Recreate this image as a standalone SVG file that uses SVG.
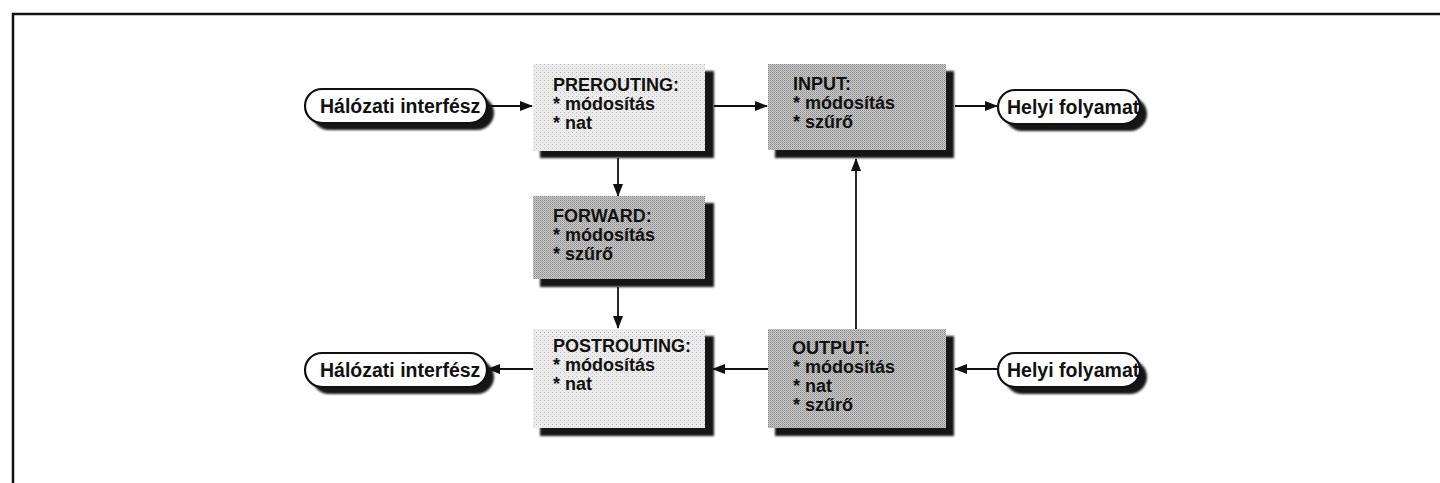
<svg xmlns="http://www.w3.org/2000/svg" width="1440" height="483" viewBox="0 0 1440 483">
  <style>
    .label { font-family: "Liberation Sans", Arial, sans-serif; font-weight: bold; font-size: 18px; fill: #111; }
    .pilltext { font-family: "Liberation Sans", Arial, sans-serif; font-weight: bold; font-size: 19.5px; fill: #111; }
    .pill { fill: #fff; stroke: #111; stroke-width: 2.2; }
    .shadow { fill: #151515; filter: url(#grain); }
    .light { fill: url(#lightDots); }
    .dark { fill: url(#darkDots); }
    .conn { stroke: #111; stroke-width: 1.8; fill: none; marker-end: url(#head); }
    .frame { stroke: #111; stroke-width: 2.5; fill: none; }
  </style>
  <defs>
    <!-- stippled paper textures for the chain boxes -->
    <pattern id="lightDots" width="4" height="4" patternUnits="userSpaceOnUse">
      <rect width="4" height="4" fill="#ececec"/>
      <rect x="0" y="0" width="1" height="1" fill="#b5b5b5"/>
      <rect x="2" y="2" width="1" height="1" fill="#cfcfcf"/>
    </pattern>
    <pattern id="darkDots" width="2" height="2" patternUnits="userSpaceOnUse">
      <rect width="2" height="2" fill="#c9c9c9"/>
      <rect x="0" y="0" width="1" height="1" fill="#8c8c8c"/>
      <rect x="1" y="1" width="1" height="1" fill="#a6a6a6"/>
    </pattern>
    <filter id="grain" x="-10%" y="-10%" width="120%" height="130%">
      <feGaussianBlur stdDeviation="1.2"/>
    </filter>
    <marker id="head" markerUnits="userSpaceOnUse" markerWidth="13" markerHeight="10" refX="12" refY="5" orient="auto">
      <path d="M0,0 L13,5 L0,10 z" fill="#111"/>
    </marker>
  </defs>

  <!-- page frame -->
  <path class="frame" d="M13,483 L13,14 L1440,14"/>

  <!-- connectors -->
  <g id="connectors">
    <line class="conn" x1="487" y1="106" x2="532" y2="106"/>
    <line class="conn" x1="714" y1="106" x2="767" y2="106"/>
    <line class="conn" x1="955" y1="106" x2="997" y2="106"/>
    <line class="conn" x1="618" y1="158" x2="618" y2="196"/>
    <line class="conn" x1="618" y1="287" x2="618" y2="328"/>
    <line class="conn" x1="856" y1="329" x2="856" y2="159"/>
    <line class="conn" x1="768" y1="369" x2="713" y2="369"/>
    <line class="conn" x1="998" y1="369" x2="955" y2="369"/>
    <line class="conn" x1="533" y1="369" x2="488" y2="369"/>
  </g>

  <!-- network interface (in) -->
  <g id="net-in">
    <rect class="shadow" x="312" y="96" width="182" height="34" rx="17"/>
    <rect class="pill" x="305" y="89" width="182" height="34" rx="17"/>
    <text class="pilltext" x="320" y="113">Hálózati interfész</text>
  </g>

  <!-- local process (in) -->
  <g id="local-in">
    <rect class="shadow" x="1005" y="97" width="142" height="34" rx="17"/>
    <rect class="pill" x="998" y="90" width="142" height="34" rx="17"/>
    <text class="pilltext" x="1007" y="114">Helyi folyamat</text>
  </g>

  <!-- PREROUTING chain -->
  <g id="prerouting">
    <rect class="shadow" x="540" y="71" width="174" height="87"/>
    <rect class="light" x="533" y="64" width="172" height="87"/>
    <text class="label" x="553" y="91">PREROUTING:</text>
    <text class="label" x="553" y="110">* módosítás</text>
    <text class="label" x="553" y="129">* nat</text>
  </g>

  <!-- INPUT chain -->
  <g id="input">
    <rect class="shadow" x="775" y="71" width="179" height="87"/>
    <rect class="dark" x="768" y="64" width="178" height="86"/>
    <text class="label" x="793" y="90">INPUT:</text>
    <text class="label" x="793" y="109">* módosítás</text>
    <text class="label" x="793" y="128">* szűrő</text>
  </g>

  <!-- FORWARD chain -->
  <g id="forward">
    <rect class="shadow" x="540" y="203" width="174" height="84"/>
    <rect class="dark" x="533" y="196" width="172" height="83"/>
    <text class="label" x="553" y="222">FORWARD:</text>
    <text class="label" x="553" y="241">* módosítás</text>
    <text class="label" x="553" y="260">* szűrő</text>
  </g>

  <!-- POSTROUTING chain -->
  <g id="postrouting">
    <rect class="shadow" x="540" y="336" width="174" height="100"/>
    <rect class="light" x="533" y="329" width="172" height="99"/>
    <text class="label" x="553" y="352">POSTROUTING:</text>
    <text class="label" x="553" y="371">* módosítás</text>
    <text class="label" x="553" y="390">* nat</text>
  </g>

  <!-- OUTPUT chain -->
  <g id="output">
    <rect class="shadow" x="775" y="336" width="179" height="100"/>
    <rect class="dark" x="768" y="329" width="178" height="99"/>
    <text class="label" x="792" y="354">OUTPUT:</text>
    <text class="label" x="793" y="373">* módosítás</text>
    <text class="label" x="793" y="392">* nat</text>
    <text class="label" x="793" y="411">* szűrő</text>
  </g>

  <!-- network interface (out) -->
  <g id="net-out">
    <rect class="shadow" x="312" y="360" width="182" height="34" rx="17"/>
    <rect class="pill" x="305" y="353" width="182" height="34" rx="17"/>
    <text class="pilltext" x="320" y="377">Hálózati interfész</text>
  </g>

  <!-- local process (out) -->
  <g id="local-out">
    <rect class="shadow" x="1005" y="360" width="142" height="34" rx="17"/>
    <rect class="pill" x="998" y="353" width="142" height="34" rx="17"/>
    <text class="pilltext" x="1007" y="377">Helyi folyamat</text>
  </g>
</svg>
